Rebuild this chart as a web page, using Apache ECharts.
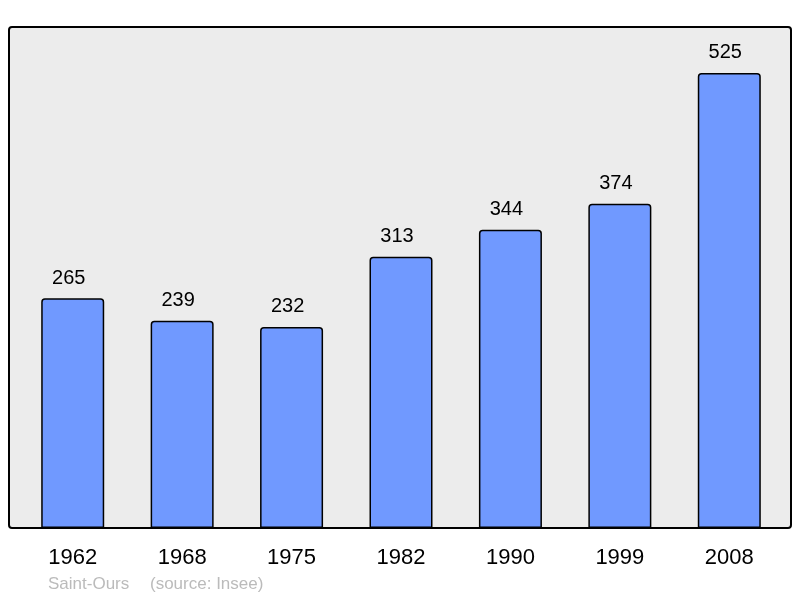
<!DOCTYPE html>
<html>
<head>
<meta charset="utf-8">
<script src="https://cdn.jsdelivr.net/npm/echarts@6/dist/echarts.min.js"></script>
<style>
  html, body { margin: 0; padding: 0; background: #fff; }
  #chart { width: 800px; height: 598px; }
</style>
</head>
<body>
<div id="chart"></div>
<script>
const years = ['1962', '1968', '1975', '1982', '1990', '1999', '2008']
const population = [265, 239, 232, 313, 344, 374, 525]
const place = 'Saint-Ours'
const source = '(source: Insee)'

const chart = echarts.init(document.getElementById('chart'))

const option = {
  animation: false,
  textStyle: { fontFamily: 'Liberation Sans, Arial, sans-serif' },
  grid: { left: 18, right: 16, top: 27, bottom: 70 },
  graphic: [
    {
      type: 'rect',
      z: -10,
      shape: { x: 9, y: 27, width: 782, height: 501, r: 3 },
      style: { fill: '#ececec', stroke: '#000', lineWidth: 2 }
    },
    {
      type: 'text',
      left: 48, top: 576,
      style: { text: place, fill: '#bbbbbb', fontSize: 17, fontFamily: 'Liberation Sans, Arial, sans-serif' }
    },
    {
      type: 'text',
      left: 150, top: 576,
      style: { text: source, fill: '#bbbbbb', fontSize: 17, fontFamily: 'Liberation Sans, Arial, sans-serif' }
    }
  ],
  xAxis: {
    type: 'category',
    data: years,
    axisLine: { show: false },
    axisTick: { show: false },
    axisLabel: { color: '#000', fontSize: 22, margin: 19 }
  },
  yAxis: {
    type: 'value',
    min: 0,
    max: 578,
    show: false,
    splitLine: { show: false }
  },
  series: [
    {
      type: 'bar',
      data: population,
      barWidth: 63,
      itemStyle: {
        color: '#7099ff',
        borderColor: '#000',
        borderWidth: 1.5,
        borderRadius: [3, 3, 0, 0]
      },
      label: {
        show: true,
        position: 'top',
        distance: 10,
        offset: [-4, 0],
        color: '#000',
        fontSize: 20
      }
    }
  ]
}

chart.setOption(option)
</script>
</body>
</html>
